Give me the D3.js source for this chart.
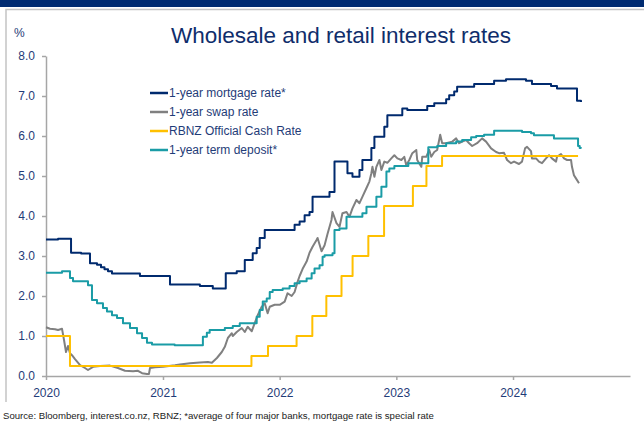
<!DOCTYPE html>
<html>
<head>
<meta charset="utf-8">
<script src="https://cdn.jsdelivr.net/npm/d3@7"></script>
<style>
	body { margin: 0; background: #fff; }
	svg { display: block; font-family: "Liberation Sans", Arial, sans-serif; }
</style>
</head>
<body>
<div id="graph"></div>
<script>
// dates are decimal years
var mortgage = [
	[2020.000, 3.41], [2020.103, 3.43], [2020.214, 3.08], [2020.300, 3.06], [2020.376, 2.82],
	[2020.436, 2.78], [2020.470, 2.72], [2020.500, 2.67], [2020.530, 2.62], [2020.564, 2.56],
	[2020.803, 2.50], [2021.060, 2.29], [2021.316, 2.25], [2021.427, 2.19], [2021.538, 2.57],
	[2021.632, 2.62], [2021.701, 2.90], [2021.769, 3.07], [2021.803, 3.20], [2021.829, 3.45],
	[2021.872, 3.65], [2022.128, 3.78], [2022.171, 3.86], [2022.214, 4.02], [2022.256, 4.10],
	[2022.282, 4.48], [2022.427, 4.60], [2022.470, 5.36], [2022.581, 5.07], [2022.624, 4.98],
	[2022.684, 5.15], [2022.709, 5.40], [2022.786, 5.70], [2022.812, 5.98], [2022.897, 6.23],
	[2022.923, 6.52], [2023.051, 6.69], [2023.094, 6.65], [2023.265, 6.75], [2023.325, 6.82],
	[2023.427, 6.92], [2023.453, 7.02], [2023.496, 7.11], [2023.521, 7.23], [2023.667, 7.30],
	[2023.838, 7.38], [2023.940, 7.42], [2024.111, 7.38], [2024.162, 7.30], [2024.325, 7.25],
	[2024.376, 7.19], [2024.547, 6.88], [2024.581, 6.85]
];

var swap = [
	[2020.000, 1.22], [2020.034, 1.18], [2020.077, 1.17], [2020.103, 1.15], [2020.137, 1.18],
	[2020.154, 0.90], [2020.171, 0.60], [2020.188, 0.75], [2020.205, 0.57], [2020.222, 0.52],
	[2020.248, 0.42], [2020.291, 0.27], [2020.333, 0.20], [2020.359, 0.15], [2020.402, 0.23],
	[2020.462, 0.25], [2020.547, 0.26], [2020.615, 0.20], [2020.675, 0.13], [2020.744, 0.12],
	[2020.786, 0.13], [2020.821, 0.07], [2020.863, 0.05], [2020.880, 0.05], [2020.889, 0.20],
	[2020.932, 0.22], [2021.000, 0.23], [2021.103, 0.27], [2021.145, 0.29], [2021.231, 0.32],
	[2021.316, 0.34], [2021.385, 0.35], [2021.419, 0.33], [2021.462, 0.45], [2021.504, 0.60],
	[2021.530, 0.73], [2021.556, 0.95], [2021.590, 1.07], [2021.598, 1.00], [2021.632, 1.10],
	[2021.675, 1.20], [2021.701, 1.10], [2021.726, 1.23], [2021.761, 1.12], [2021.786, 1.32],
	[2021.812, 1.52], [2021.846, 1.73], [2021.872, 1.82], [2021.897, 1.57], [2021.915, 1.73],
	[2021.957, 1.78], [2022.000, 1.78], [2022.043, 1.86], [2022.068, 2.07], [2022.103, 2.00],
	[2022.128, 2.10], [2022.154, 2.36], [2022.171, 2.50], [2022.197, 2.68], [2022.231, 2.86],
	[2022.256, 3.08], [2022.282, 3.23], [2022.316, 3.40], [2022.325, 3.45], [2022.359, 3.12],
	[2022.385, 3.27], [2022.410, 3.55], [2022.444, 3.90], [2022.453, 4.10], [2022.487, 3.82],
	[2022.513, 3.73], [2022.538, 4.07], [2022.573, 4.10], [2022.598, 3.98], [2022.624, 4.19],
	[2022.658, 4.40], [2022.684, 4.32], [2022.709, 4.48], [2022.744, 4.70], [2022.769, 4.86],
	[2022.786, 5.07], [2022.795, 5.23], [2022.812, 4.98], [2022.829, 5.23], [2022.855, 5.40],
	[2022.872, 5.15], [2022.897, 5.36], [2022.923, 5.33], [2022.957, 5.44], [2022.983, 5.52],
	[2023.009, 5.44], [2023.043, 5.40], [2023.068, 5.48], [2023.085, 5.27], [2023.111, 5.40],
	[2023.137, 5.57], [2023.171, 5.65], [2023.179, 5.40], [2023.214, 5.23], [2023.222, 5.48],
	[2023.256, 5.48], [2023.282, 5.65], [2023.299, 5.48], [2023.325, 5.60], [2023.350, 5.65],
	[2023.376, 6.03], [2023.393, 5.82], [2023.427, 5.82], [2023.479, 5.86], [2023.513, 5.94],
	[2023.538, 5.82], [2023.564, 5.86], [2023.598, 5.90], [2023.624, 5.82], [2023.650, 5.75],
	[2023.692, 5.82], [2023.735, 5.94], [2023.769, 5.86], [2023.812, 5.69], [2023.855, 5.60],
	[2023.880, 5.57], [2023.923, 5.58], [2023.949, 5.40], [2023.983, 5.32], [2024.009, 5.36],
	[2024.051, 5.30], [2024.077, 5.36], [2024.103, 5.69], [2024.120, 5.73], [2024.154, 5.62],
	[2024.162, 5.44], [2024.197, 5.44], [2024.222, 5.36], [2024.248, 5.32], [2024.282, 5.44],
	[2024.308, 5.52], [2024.333, 5.44], [2024.368, 5.36], [2024.376, 5.48], [2024.410, 5.55],
	[2024.436, 5.44], [2024.462, 5.40], [2024.496, 5.40], [2024.504, 5.23], [2024.521, 5.02],
	[2024.538, 4.94], [2024.564, 4.82]
];

var ocr = [
	[2020.000, 1.00], [2020.205, 0.25], [2021.758, 0.50], [2021.900, 0.75], [2022.145, 1.00],
	[2022.280, 1.50], [2022.400, 2.00], [2022.530, 2.50], [2022.625, 3.00], [2022.760, 3.50],
	[2022.895, 4.25], [2023.142, 4.75], [2023.258, 5.25], [2023.392, 5.50], [2024.556, 5.50]
];

var termDeposit = [
	[2020.000, 2.58], [2020.137, 2.62], [2020.205, 2.45], [2020.231, 2.37], [2020.359, 2.27],
	[2020.393, 1.90], [2020.436, 1.82], [2020.487, 1.70], [2020.521, 1.61], [2020.564, 1.52],
	[2020.607, 1.45], [2020.658, 1.32], [2020.718, 1.20], [2020.778, 1.07], [2020.821, 0.95],
	[2020.863, 0.83], [2020.906, 0.79], [2021.100, 0.77], [2021.342, 0.98], [2021.376, 1.08],
	[2021.400, 1.15], [2021.530, 1.20], [2021.598, 1.25], [2021.658, 1.32], [2021.803, 1.48],
	[2021.829, 1.65], [2021.855, 1.86], [2021.889, 1.94], [2021.915, 2.10], [2021.940, 2.15],
	[2022.026, 2.19], [2022.085, 2.25], [2022.128, 2.32], [2022.171, 2.37], [2022.231, 2.44],
	[2022.274, 2.57], [2022.299, 2.69], [2022.342, 2.77], [2022.368, 2.98], [2022.385, 3.02],
	[2022.453, 3.07], [2022.470, 3.65], [2022.513, 3.69], [2022.573, 3.98], [2022.709, 4.07],
	[2022.744, 4.23], [2022.829, 4.48], [2022.872, 4.73], [2022.915, 5.11], [2022.940, 5.19],
	[2022.983, 5.25], [2023.103, 5.32], [2023.274, 5.72], [2023.350, 5.75], [2023.427, 5.82],
	[2023.513, 5.86], [2023.564, 5.90], [2023.641, 5.97], [2023.684, 6.00], [2023.752, 6.03],
	[2023.838, 6.13], [2024.077, 6.10], [2024.154, 6.07], [2024.179, 6.02], [2024.350, 5.94],
	[2024.556, 5.75], [2024.570, 5.70], [2024.581, 5.69]
];

var years = [2020, 2021, 2022, 2023, 2024];
var yTicks = [0, 1, 2, 3, 4, 5, 6, 7, 8];

var series = [
	{name: "1-year mortgage rate*", data: mortgage, color: "#002a6e", step: true},
	{name: "1-year swap rate", data: swap, color: "#808080", step: false},
	{name: "RBNZ Official Cash Rate", data: ocr, color: "#ffc000", step: true},
	{name: "1-year term deposit*", data: termDeposit, color: "#1a9ca6", step: true}
];

var	SVGwidth = 644,
	SVGheight = 423,
	margin = {top: 56, right: 14, bottom: 47, left: 46},
	width = SVGwidth - margin.left - margin.right,
	height = SVGheight - margin.top - margin.bottom;

var textColor = "#1f3c78",
	axisColor = "#a6a6a6";

function toDate (t) {
	var yr = Math.floor(t),
		start = new Date(yr, 0, 1),
		end = new Date(yr + 1, 0, 1);
	return new Date(+start + (t - yr) * (end - start));
}

var svg = d3.select('div#graph')
				.append('svg')
				.attr('width', SVGwidth)
				.attr('height', SVGheight);

// header band and frame
svg.append("rect")
	.attr("x", 0).attr("y", 0)
	.attr("width", SVGwidth).attr("height", 7)
	.attr("fill", "#002b71");

svg.append("path")
	.attr("d", "M6,402V9.5H" + SVGwidth)
	.attr("fill", "none")
	.attr("stroke", "#c4c4c4")
	.attr("stroke-width", 1.5);

var x = d3.scaleTime()
				.domain([new Date(2020, 0, 1), new Date(2025, 0, 1)])
				.range([0, width]),
	y = d3.scaleLinear()
				.domain([0, 8])
				.range([height, 0]);

var g = svg.append("g")
	.attr("transform", "translate(" + margin.left + "," + margin.top + ")");

var xAxis = g.append("g")
	.attr("transform", "translate(0," + height + ")")
	.call(d3.axisBottom(x)
		.tickValues(years.map(function (d) { return new Date(d, 0, 1); }))
		.tickFormat(d3.timeFormat("%Y"))
		.tickSize(4)
		.tickSizeOuter(0)
		.tickPadding(8));

var yAxis = g.append("g")
	.call(d3.axisLeft(y)
		.tickValues(yTicks)
		.tickFormat(d3.format(".1f"))
		.tickSize(4)
		.tickSizeOuter(0)
		.tickPadding(7));

[xAxis, yAxis].forEach(function (a) {
	a.selectAll("path, line").attr("stroke", axisColor).attr("stroke-width", 1.5);
	a.selectAll("text")
		.attr("fill", textColor)
		.style("font-size", "12px")
		.style("font-family", '"Liberation Sans", Arial, sans-serif');
});

series.forEach(function (s) {
	var line = d3.line()
		.x(function (d) { return x(toDate(d[0])); })
		.y(function (d) { return y(d[1]); })
		.curve(s.step ? d3.curveStepAfter : d3.curveLinear);

	g.append("path")
		.datum(s.data)
		.attr("d", line)
		.attr("fill", "none")
		.attr("stroke", s.color)
		.attr("stroke-width", 2)
		.attr("stroke-linejoin", "round");
});

// legend
var legend = svg.append("g")
	.attr("transform", "translate(150,93)");

var item = legend.selectAll("g")
	.data(series)
	.enter()
	.append("g")
	.attr("transform", function (d, i) { return "translate(0," + (i * 19) + ")"; });

item.append("line")
	.attr("x1", 0).attr("x2", 18)
	.attr("stroke", function (d) { return d.color; })
	.attr("stroke-width", 2.5);

item.append("text")
	.attr("x", 19)
	.attr("dy", "0.35em")
	.attr("fill", textColor)
	.style("font-size", "12px")
	.text(function (d) { return d.name; });

// titles
svg.append("text")
	.attr("x", 341)
	.attr("y", 43)
	.attr("text-anchor", "middle")
	.attr("fill", "#0f2d6b")
	.style("font-size", "22.5px")
	.text("Wholesale and retail interest rates");

svg.append("text")
	.attr("x", 14)
	.attr("y", 37)
	.attr("fill", textColor)
	.style("font-size", "12px")
	.text("%");

svg.append("text")
	.attr("x", 3)
	.attr("y", 419)
	.attr("fill", "#222")
	.style("font-size", "9.6px")
	.text("Source: Bloomberg, interest.co.nz, RBNZ; *average of four major banks, mortgage rate is special rate");
</script>
</body>
</html>
